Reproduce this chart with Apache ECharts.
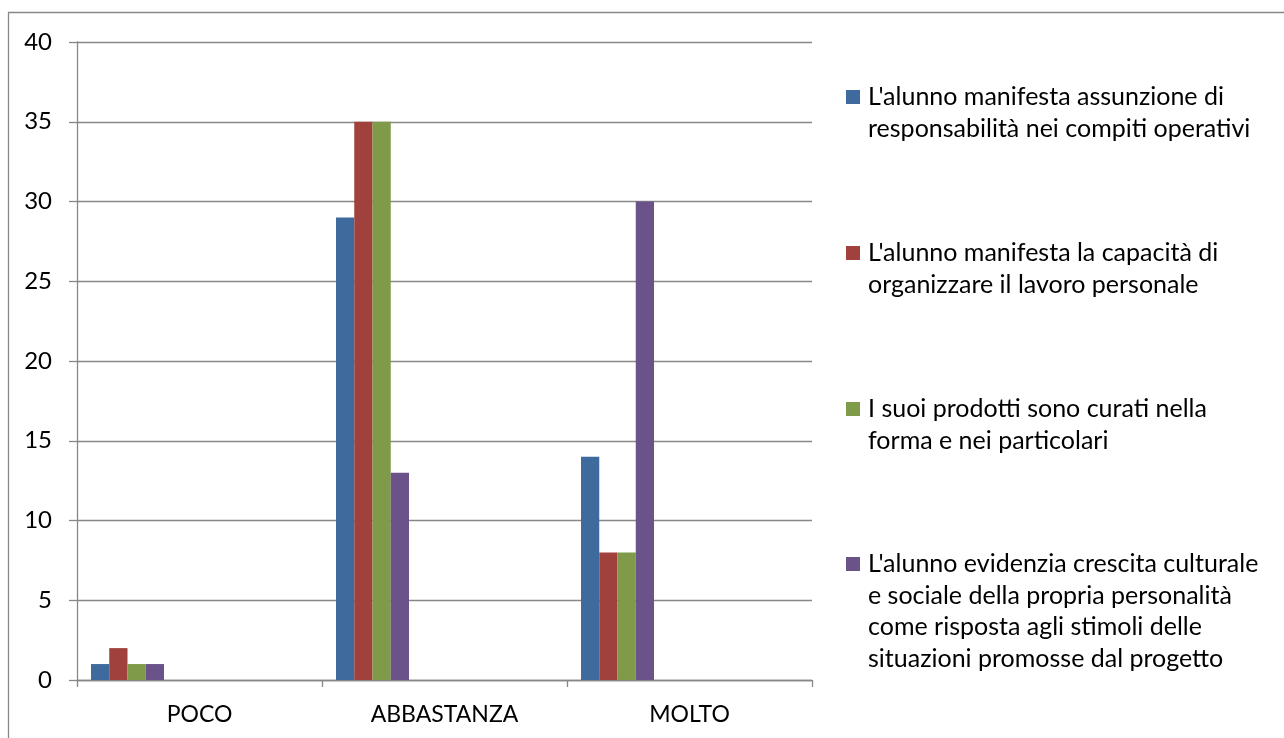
<!DOCTYPE html>
<html>
<head>
<meta charset="utf-8">
<script src="https://cdn.jsdelivr.net/npm/echarts@6/dist/echarts.min.js"></script>
<style>
html,body{margin:0;padding:0;background:#fff;}
#c{width:1284px;height:738px;}
</style>
</head>
<body>
<div id="c"></div>
<script>
var categories = ['POCO', 'ABBASTANZA', 'MOLTO'];
var seriesNames = [
  "L'alunno manifesta assunzione di responsabilità nei compiti operativi",
  "L'alunno manifesta la capacità di organizzare il lavoro personale",
  "I suoi prodotti sono curati nella forma e nei particolari",
  "L'alunno evidenzia crescita culturale e sociale della propria personalità come risposta agli stimoli delle situazioni promosse dal progetto"
];
var legendLines = [
  ["L'alunno manifesta assunzione di", "responsabilità nei compiti operativi"],
  ["L'alunno manifesta la capacità di", "organizzare il lavoro personale"],
  ["I suoi prodotti sono curati nella", "forma e nei particolari"],
  ["L'alunno evidenzia crescita culturale", "e sociale della propria personalità", "come risposta agli stimoli delle", "situazioni promosse dal progetto"]
];
var valuesResponsabilita = [1, 29, 14];
var valuesOrganizzare = [2, 35, 8];
var valuesProdotti = [1, 35, 8];
var valuesCrescita = [1, 13, 30];
var yTicks = [0, 5, 10, 15, 20, 25, 30, 35, 40];

var colors = ['#3F6A9E', '#A0413D', '#7F9A48', '#6B5289'];
var values = [valuesResponsabilita, valuesOrganizzare, valuesProdotti, valuesCrescita];
var FONT = 'Lato';
var FS = 25;
var LH = 31.5;
var markerCenters = [97, 253, 409, 564];

var series = values.map(function (v, i) {
  return {
    name: seriesNames[i], type: 'bar', data: v, barWidth: 18.25, barGap: '0%',
    itemStyle: { color: colors[i] }, emphasis: { disabled: true }
  };
});
series.push({ name: '_spacer', type: 'bar', data: [null, null, null], barWidth: 144, barGap: '0%', silent: true });

var legends = seriesNames.map(function (name, i) {
  var n = legendLines[i].length;
  var pre = '';
  for (var k = 0; k < n - 1; k++) pre += ' \n';
  return {
    orient: 'vertical', left: 846, top: markerCenters[i] - (2 * n - 1) * LH / 2,
    padding: 0, itemWidth: 14, itemHeight: 14, icon: 'rect',
    data: [name], selectedMode: false,
    formatter: function () { return pre + legendLines[i].join('\n'); },
    textStyle: { fontFamily: FONT, fontSize: FS, lineHeight: LH, color: '#000', padding: [0, 0, 0, 3] },
    itemGap: 0
  };
});

var chart = echarts.init(document.getElementById('c'), null, { renderer: 'canvas' });
chart.setOption({
  animation: false,
  backgroundColor: '#fff',
  grid: { left: 77, right: 472, top: 42, bottom: 58, containLabel: false },
  legend: legends,
  graphic: [{
    type: 'rect', shape: { x: 8.5, y: 12.5, width: 1400, height: 900 },
    style: { fill: null, stroke: '#878787', lineWidth: 1.3 }, silent: true
  }],
  xAxis: {
    type: 'category', data: categories, boundaryGap: true,
    axisLine: { lineStyle: { color: '#878787', width: 1.3 } },
    axisTick: { show: true, length: 7, lineStyle: { color: '#878787', width: 1.3 } },
    axisLabel: { fontFamily: FONT, fontSize: 23, color: '#000', margin: 23 }
  },
  yAxis: {
    type: 'value', min: 0, max: 40, interval: 5,
    axisLine: { show: true, lineStyle: { color: '#878787', width: 1.3 } },
    axisTick: { show: true, length: 8, lineStyle: { color: '#878787', width: 1.3 } },
    splitLine: { show: true, lineStyle: { color: '#878787', width: 1.3 } },
    axisLabel: { fontFamily: FONT, fontSize: 24, color: '#000', margin: 25,
      formatter: function (v) { return yTicks.indexOf(v) >= 0 ? String(v) : ''; } }
  },
  series: series
});
</script>
</body>
</html>
